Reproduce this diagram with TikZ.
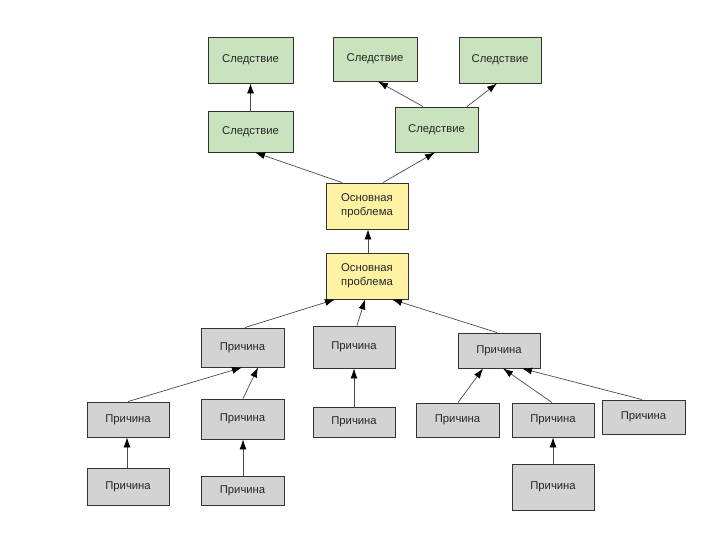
\documentclass[tikz,border=0pt]{standalone}
\usepackage{fontspec}
\setmainfont{Liberation Sans}
\usetikzlibrary{arrows.meta}
\definecolor{gfill}{HTML}{C9E3BE}
\definecolor{yfill}{HTML}{FFF3A3}
\definecolor{cfill}{HTML}{D3D3D3}
\definecolor{bord}{HTML}{333333}
\definecolor{lin}{HTML}{4A4A4A}
\tikzset{
  box/.style={draw=bord, line width=0.9pt, rectangle, inner sep=0pt, align=center,
    font=\fontsize{11.3}{14}\selectfont, text=black!85},
  eff/.style={box, fill=gfill},
  core/.style={box, fill=yfill},
  cause/.style={box, fill=cfill},
  arr/.style={draw=lin, line width=0.7pt, -{Latex[length=10pt,width=7pt,color=black]}}
}
\begin{document}
\begin{tikzpicture}[x=1pt,y=-1pt]
\useasboundingbox (0,0) rectangle (720,540);
% effects
\node[eff, minimum width=85, minimum height=46] (S1) at (250.5,60) {Следствие};
\node[eff, minimum width=84, minimum height=44] (S2) at (375,59) {Следствие};
\node[eff, minimum width=82, minimum height=46] (S3) at (500,60) {Следствие};
\node[eff, minimum width=85, minimum height=41] (S4) at (250.5,131.5) {Следствие};
\node[eff, minimum width=83, minimum height=45] (S5) at (436.5,129.5) {Следствие};
% core problems
\node[core, minimum width=82, minimum height=46] (P1) at (367,206) {Основная\\проблема};
\node[core, minimum width=82, minimum height=46] (P2) at (367,276) {Основная\\проблема};
% causes
\node[cause, minimum width=83, minimum height=39] (C1) at (242.5,347.5) {Причина};
\node[cause, minimum width=82, minimum height=42] (C2) at (354,347) {Причина};
\node[cause, minimum width=82, minimum height=35] (C3) at (128,419.5) {Причина};
\node[cause, minimum width=83, minimum height=40] (C4) at (242.5,419) {Причина};
\node[cause, minimum width=82, minimum height=30] (C5) at (354,422) {Причина};
\node[cause, minimum width=82, minimum height=37] (C6) at (128,486.5) {Причина};
\node[cause, minimum width=83, minimum height=29] (C7) at (242.5,490.5) {Причина};
\node[cause, minimum width=82, minimum height=35] (C8) at (499,350.5) {Причина};
\node[cause, minimum width=83, minimum height=34] (C9) at (457.5,420) {Причина};
\node[cause, minimum width=82, minimum height=34] (C10) at (553,420) {Причина};
\node[cause, minimum width=83, minimum height=34] (C11) at (643.5,417) {Причина};
\node[cause, minimum width=82, minimum height=46] (C12) at (553,487) {Причина};
% connectors
\draw[arr] (S4.north) -- (S1.south);
\draw[arr] ([xshift=-13.5]S5.north) -- ([xshift=3]S2.south);
\draw[arr] ([xshift=30.5]S5.north) -- ([xshift=-3]S3.south);
\draw[arr] ([xshift=-25]P1.north) -- ([xshift=4.5]S4.south);
\draw[arr] ([xshift=16]P1.north) -- ([xshift=-1.5]S5.south);
\draw[arr] ([xshift=1]P2.north) -- ([xshift=1]P1.south);
\draw[arr] ([xshift=2.5]C1.north) -- ([xshift=-32]P2.south);
\draw[arr] ([xshift=3]C2.north) -- ([xshift=-2]P2.south);
\draw[arr] ([xshift=-2]C8.north) -- ([xshift=25]P2.south);
\draw[arr] (C3.north) -- ([xshift=-0.5]C1.south);
\draw[arr] ([xshift=0.5]C4.north) -- ([xshift=15.5]C1.south);
\draw[arr] ([xshift=-1]C6.north) -- ([xshift=-1]C3.south);
\draw[arr] ([xshift=0.5]C7.north) -- ([xshift=0.5]C4.south);
\draw[arr] (C5.north) -- (C2.south);
\draw[arr] ([xshift=0.5]C9.north) -- ([xshift=-16]C8.south);
\draw[arr] ([xshift=-1]C10.north) -- ([xshift=4]C8.south);
\draw[arr] ([xshift=-1.5]C11.north) -- ([xshift=23]C8.south);
\draw[arr] (C12.north) -- (C10.south);
\end{tikzpicture}
\end{document}
